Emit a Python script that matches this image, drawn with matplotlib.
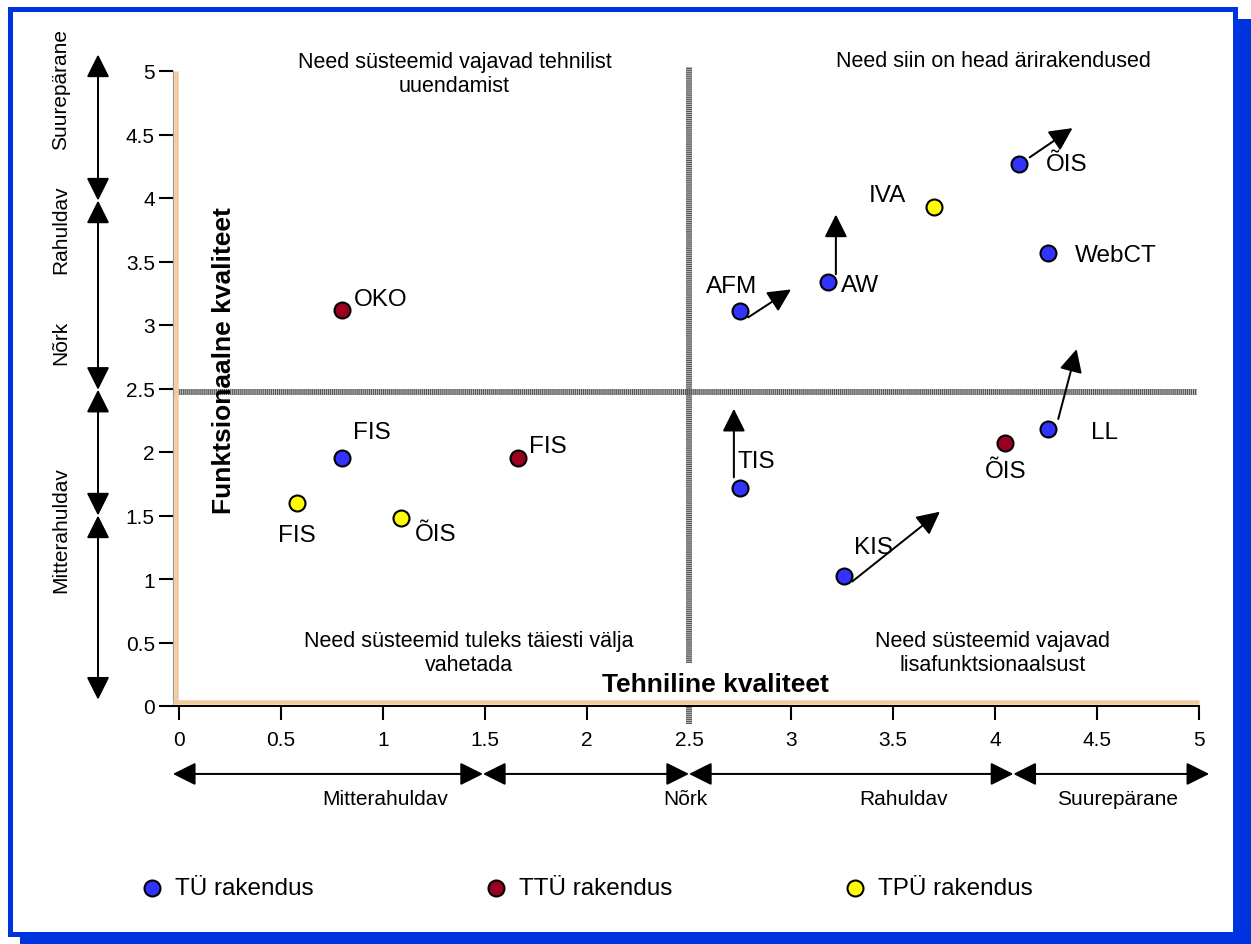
import matplotlib
matplotlib.use("Agg")
import matplotlib.pyplot as plt
from matplotlib.patches import Rectangle

plt.rcParams["font.family"] = ["Liberation Sans", "DejaVu Sans"]

W, H = 1251, 945

# --- data -------------------------------------------------------------
tu_names = ["FIS", "AFM", "AW", "ÕIS", "WebCT", "TIS", "KIS", "LL"]
tu_x = [0.80, 2.75, 3.18, 4.12, 4.26, 2.75, 3.26, 4.26]
tu_y = [1.95, 3.11, 3.34, 4.27, 3.57, 1.72, 1.02, 2.18]

ttu_names = ["OKO", "FIS", "ÕIS"]
ttu_x = [0.80, 1.66, 4.05]
ttu_y = [3.12, 1.95, 2.07]

tpu_names = ["FIS", "ÕIS", "IVA"]
tpu_x = [0.58, 1.09, 3.70]
tpu_y = [1.60, 1.48, 3.93]

# trend arrows (start -> end)
arrow_x0 = [4.17, 3.22, 2.79, 4.31, 2.72, 3.30]
arrow_y0 = [4.32, 3.40, 3.06, 2.26, 1.80, 0.98]
arrow_x1 = [4.38, 3.22, 3.00, 4.40, 2.72, 3.73]
arrow_y1 = [4.55, 3.87, 3.28, 2.81, 2.34, 1.53]

tick_vals = [0, 0.5, 1, 1.5, 2, 2.5, 3, 3.5, 4, 4.5, 5]
tick_labels = ["0", "0.5", "1", "1.5", "2", "2.5", "3", "3.5", "4", "4.5", "5"]

# quality bands along the axes
x_band_edges = [-0.03, 1.49, 2.50, 4.09, 5.05]
x_band_names = ["Mitterahuldav", "Nõrk", "Rahuldav", "Suurepärane"]
x_band_label_pos = [1.01, 2.48, 3.55, 4.60]

y_band_edges = [0.05, 1.50, 2.49, 3.98, 5.13]
y_band_names = ["Mitterahuldav", "Nõrk", "Rahuldav", "Suurepärane"]
y_band_label_pos = [1.39, 2.87, 3.76, 4.86]

split_x = 2.5
split_y = 2.47

quadrant_texts = [
    "Need süsteemid vajavad tehnilist\nuuendamist",
    "Need siin on head ärirakendused",
    "Need süsteemid tuleks täiesti välja\nvahetada",
    "Need süsteemid vajavad\nlisafunktsionaalsust",
]

legend_labels = ["TÜ rakendus", "TTÜ rakendus", "TPÜ rakendus"]

# label offsets in pixels (dx, dy up) - layout only
tu_off = [(30, 26), (-8, 25), (32, -3), (47, 0), (68, -2), (16, 27), (29, 29), (56, -3)]
ttu_off = [(38, 11), (30, 12), (0, -28)]
tpu_off = [(0, -32), (34, -16), (-46, 12)]

BLUE = "#3333FF"
RED = "#990022"
YEL = "#FFFF00"
FRAME = "#0033E0"
TAN = "#F0CBA0"
px = 0.72  # points per pixel

fig = plt.figure(figsize=(W / 100, H / 100), dpi=100)

# frame with shadow
fig.add_artist(Rectangle((20 / W, 0), (W - 20) / W, (H - 20) / H,
                         transform=fig.transFigure, fc=FRAME, ec="none", zorder=-10))
fig.add_artist(Rectangle((9.5 / W, (H - 934.5) / H), (1235 - 9.5) / W, (934.5 - 9.5) / H,
                         transform=fig.transFigure, fc="white", ec=FRAME,
                         lw=5 * px, zorder=-9))

xmin, xmax = -0.03, 5.0
x0px, sx = 179, 204
left = x0px + xmin * sx
ax = fig.add_axes([left / W, (H - 707) / H, (x0px + xmax * sx - left) / W, 635 / H])
ax.set_xlim(xmin, xmax)
ax.set_ylim(0, 5)
ax.patch.set_visible(False)

for s in ["top", "right"]:
    ax.spines[s].set_visible(False)
ax.spines["left"].set_color("#9a9a9a")
ax.spines["left"].set_linewidth(1.2 * px)
ax.spines["bottom"].set_color("black")
ax.spines["bottom"].set_linewidth(2 * px)

ax.set_xticks(tick_vals)
ax.set_xticklabels(tick_labels)
ax.set_yticks(tick_vals)
ax.set_yticklabels(tick_labels)
ax.tick_params(axis="both", direction="out", length=10, width=1.5, labelsize=15,
               color="black")
ax.tick_params(axis="x", pad=7)
ax.tick_params(axis="y", pad=3)
ax.xaxis.get_major_ticks()[tick_vals.index(split_x)].tick1line.set_visible(False)

# tan plot-area border (left and bottom)
ax.plot([-0.017, -0.017], [0.02, 5], color=TAN, lw=4.5 * px, zorder=4, clip_on=False,
        solid_capstyle="butt")
ax.plot([xmin, 5.0], [0.03, 0.03], color=TAN, lw=4.5 * px, zorder=4, clip_on=False,
        solid_capstyle="butt")

# quadrant lines: striped grey (light base + dark dashes)
base = dict(color="#bdbdbd", lw=6 * px, clip_on=False, zorder=2, solid_capstyle="butt")
dash = dict(color="#505050", lw=6 * px, linestyle=(0, (0.17, 0.17)), clip_on=False,
            zorder=2, dash_capstyle="butt")
for st in (base, dash):
    ax.plot([xmin, 4.99], [split_y, split_y], **st)
    ax.plot([split_x, split_x], [-0.14, 5.03], **st)

# quadrant texts
qfs = 15.5
ax.text(1.35, 4.98, quadrant_texts[0], ha="center", va="center", fontsize=qfs, linespacing=1.2)
ax.text(3.99, 5.08, quadrant_texts[1], ha="center", va="center", fontsize=qfs)
ax.text(1.42, 0.42, quadrant_texts[2], ha="center", va="center", fontsize=qfs, linespacing=1.2)
ax.text(3.99, 0.42, quadrant_texts[3], ha="center", va="center", fontsize=qfs, linespacing=1.2)

# axis titles
ax.text(2.63, 0.175, "Tehniline kvaliteet", ha="center", va="center", fontsize=19,
        fontweight="bold", zorder=3,
        bbox=dict(boxstyle="square,pad=0.35", fc="white", ec="none"))
ax.text(0.22, 2.73, "Funktsionaalne kvaliteet", ha="center", va="center", fontsize=19,
        fontweight="bold", rotation=90, zorder=3)

# trend arrows
for xa, ya, xb, yb in zip(arrow_x0, arrow_y0, arrow_x1, arrow_y1):
    ax.annotate("", xy=(xb, yb), xytext=(xa, ya),
                arrowprops=dict(arrowstyle="-|>,head_length=0.7,head_width=0.35",
                                mutation_scale=20, lw=2 * px, color="black",
                                shrinkA=0, shrinkB=0), zorder=5)

# points and labels
msize = 132
groups = [
    (tu_names, tu_x, tu_y, tu_off, BLUE, legend_labels[0]),
    (ttu_names, ttu_x, ttu_y, ttu_off, RED, legend_labels[1]),
    (tpu_names, tpu_x, tpu_y, tpu_off, YEL, legend_labels[2]),
]
handles = []
for names, xs, ys, offs, col, lab in groups:
    h = ax.scatter(xs, ys, s=msize, c=col, edgecolors="black", linewidths=1.5,
                   zorder=6, label=lab, clip_on=False)
    handles.append(h)
    for n, xv, yv, (dx, dy) in zip(names, xs, ys, offs):
        ax.annotate(n, (xv, yv), xytext=(dx * px, dy * px), textcoords="offset points",
                    ha="center", va="center", fontsize=17.5, zorder=7)

# band arrows below x axis
band_y = -0.535
for a, b in zip(x_band_edges[:-1], x_band_edges[1:]):
    ax.annotate("", xy=(b, band_y), xytext=(a, band_y), annotation_clip=False,
                arrowprops=dict(arrowstyle="<|-|>,head_length=0.7,head_width=0.35",
                                mutation_scale=20, lw=2 * px, color="black",
                                shrinkA=0, shrinkB=0))
for n, xv in zip(x_band_names, x_band_label_pos):
    ax.text(xv, -0.73, n, ha="center", va="center", fontsize=15, clip_on=False)

# band arrows left of y axis
band_x = -0.397
for a, b in zip(y_band_edges[:-1], y_band_edges[1:]):
    ax.annotate("", xy=(band_x, b), xytext=(band_x, a), annotation_clip=False,
                arrowprops=dict(arrowstyle="<|-|>,head_length=0.7,head_width=0.35",
                                mutation_scale=20, lw=2 * px, color="black",
                                shrinkA=0, shrinkB=0))
for n, yv in zip(y_band_names, y_band_label_pos):
    ax.text(-0.58, yv, n, ha="center", va="center", fontsize=15, rotation=90,
            clip_on=False)

fig.legend(handles=handles, loc="center left", bbox_to_anchor=(140 / W, (H - 889) / H),
           ncol=3, frameon=False, fontsize=17.5, handlelength=1.0, handletextpad=0.45,
           columnspacing=7.0, borderpad=0, borderaxespad=0, scatterpoints=1)

fig.savefig("out.png", dpi=100)
